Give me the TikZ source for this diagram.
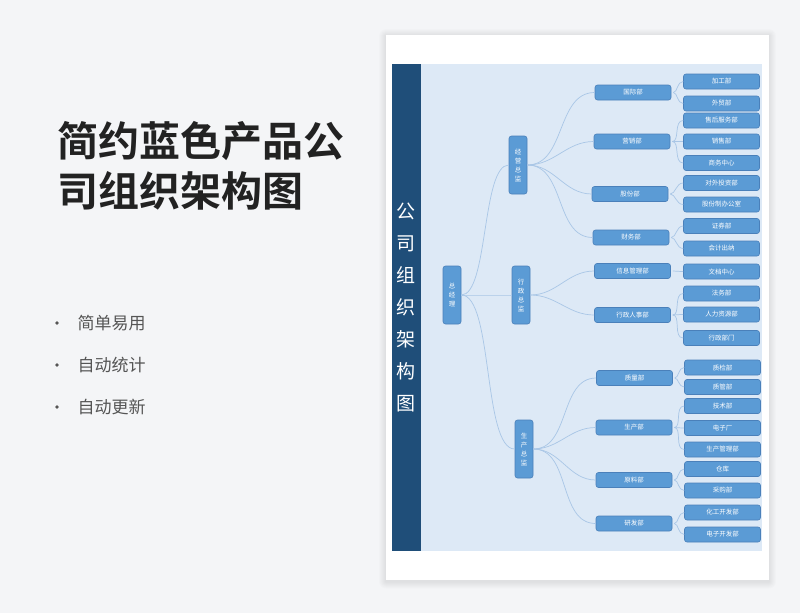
\documentclass[tikz,border=0pt]{standalone}
\usepackage{fontspec}
\setmainfont{Noto Sans CJK SC}[BoldFont={Noto Sans CJK SC Bold}]
\usepackage{tikz}
\usetikzlibrary{positioning}
\definecolor{pagebg}{HTML}{F4F5F7}
\definecolor{panelbg}{HTML}{DDE9F6}
\definecolor{navy}{HTML}{1F4E79}
\definecolor{boxfill}{HTML}{5B9BD5}
\definecolor{boxline}{HTML}{4A80BA}
\definecolor{linkc}{HTML}{A9C6E6}
\definecolor{titlec}{HTML}{222222}
\definecolor{bulletc}{HTML}{555555}
\tikzset{
  unit/.style={draw=boxline, fill=boxfill, rounded corners=2.5pt, line width=0.6pt,
               inner sep=0pt, text=white, font=\fontsize{6.5}{7}\selectfont},
  dept/.style={unit, minimum width=76pt, minimum height=15pt},
  head/.style={unit, minimum width=18pt, minimum height=58pt, align=center,
               font=\fontsize{6.5}{9}\selectfont},
  link/.style={draw=linkc, line width=0.7pt},
  trunk/.style={link, looseness=0.5},
  twig/.style={link, shorten <=2pt},
  softshadow/.style={fill=black, opacity=0.012},
  bigtitle/.style={anchor=west, text=titlec, font=\fontsize{41}{48}\selectfont\bfseries},
  bulletitem/.style={anchor=west, text=bulletc, font=\fontsize{17}{20}\selectfont}
}

\begin{document}
\begin{tikzpicture}[x=1pt, y=-1pt]
    \useasboundingbox[fill=pagebg] (0,0) rectangle (800,613);
    % left side
    \node[bigtitle] (t1) at (54,141) {简约蓝色产品公};
    \node[bigtitle] (t2) at (54,191) {司组织架构图};
    \fill[bulletc] (57,323) circle (1.8); \node[bulletitem] (b1) at (74,323) {简单易用};
    \fill[bulletc] (57,365) circle (1.8); \node[bulletitem] (b2) at (74,365) {自动统计};
    \fill[bulletc] (57,407) circle (1.8); \node[bulletitem] (b3) at (74,407) {自动更新};
    % card with a soft shadow
    \foreach \d in {1,...,7}
      \fill[softshadow, rounded corners=\d pt] (386-\d,35-\d+1) rectangle (769+\d,580+\d+1.5);
    \fill[white] (386,35) rectangle (769,580);
    \fill[panelbg] (421,64) rectangle (762,551);
    \fill[navy] (392,64) rectangle (421,551);
    \node[text=white, align=center, font=\fontsize{19}{32}\selectfont] (side) at (406,307.5)
      {公\\司\\组\\织\\架\\构\\图};

    % chart
    \node[head] (ceo) at (452,295) {总\\经\\理};
    \node[head] (jy) at (518,165) {经\\营\\总\\监};
    \node[head] (xz) at (521,295) {行\\政\\总\\监};
    \node[head] (sc) at (524,449) {生\\产\\总\\监};

    \node[dept] (gj) at (633,92.5) {国际部};
    \node[dept] (yx) at (632,141.5) {营销部};
    \node[dept] (gf) at (630,194) {股份部};
    \node[dept] (cw) at (631,237.5) {财务部};
    \node[dept] (xx) at (632.5,271) {信息管理部};
    \node[dept] (rs) at (632.5,315) {行政人事部};
    \node[dept] (zl) at (634.5,378) {质量部};
    \node[dept] (scb) at (634,427.5) {生产部};
    \node[dept] (yl) at (634,480) {原料部};
    \node[dept] (yf) at (634,523.5) {研发部};

    \node[dept] (jg) at (721.5,81.5) {加工部};
    \node[dept] (wm) at (721.5,103.5) {外贸部};
    \node[dept] (sh) at (721.5,120.5) {售后服务部};
    \node[dept] (xs) at (721.5,141.5) {销售部};
    \node[dept] (sw) at (721.5,163) {商务中心};
    \node[dept] (dw) at (721.5,183) {对外投资部};
    \node[dept] (gfz) at (721.5,204.5) {股份制办公室};
    \node[dept] (zq) at (721.5,226) {证券部};
    \node[dept] (kj) at (721.5,248.5) {会计出纳};
    \node[dept] (wd) at (721.5,271.5) {文档中心};
    \node[dept] (fw) at (721.5,293.5) {法务部};
    \node[dept] (rl) at (721.5,314.5) {人力资源部};
    \node[dept] (xzbm) at (721.5,338) {行政部门};
    \node[dept] (zj) at (722.5,367.5) {质检部};
    \node[dept] (zg) at (722.5,387) {质管部};
    \node[dept] (js) at (722.5,406) {技术部};
    \node[dept] (dz) at (722.5,428) {电子厂};
    \node[dept] (scgl) at (722.5,449.5) {生产管理部};
    \node[dept] (ck) at (722.5,469) {仓库};
    \node[dept] (cg) at (722.5,490.5) {采购部};
    \node[dept] (hg) at (722.5,512.5) {化工开发部};
    \node[dept] (dzkf) at (722.5,534.5) {电子开发部};

    \draw[trunk] (ceo.east) to[out=0,in=180] (jy.west);
    \draw[trunk] (ceo.east) to[out=0,in=180] (xz.west);
    \draw[trunk] (ceo.east) to[out=0,in=180] (sc.west);

    \draw[link] (jy.east) to[out=0,in=180] (gj.west); \draw[link] (jy.east) to[out=0,in=180] (yx.west);
    \draw[link] (jy.east) to[out=0,in=180] (gf.west); \draw[link] (jy.east) to[out=0,in=180] (cw.west);
    \draw[link] (xz.east) to[out=0,in=180] (xx.west); \draw[link] (xz.east) to[out=0,in=180] (rs.west);
    \draw[link] (sc.east) to[out=0,in=180] (zl.west); \draw[link] (sc.east) to[out=0,in=180] (scb.west);
    \draw[link] (sc.east) to[out=0,in=180] (yl.west); \draw[link] (sc.east) to[out=0,in=180] (yf.west);

    \draw[twig] (gj.east) to[out=0,in=180] (jg.west); \draw[twig] (gj.east) to[out=0,in=180] (wm.west);
    \draw[twig] (yx.east) to[out=0,in=180] (sh.west); \draw[twig] (yx.east) to[out=0,in=180] (xs.west);
    \draw[twig] (yx.east) to[out=0,in=180] (sw.west);
    \draw[twig] (gf.east) to[out=0,in=180] (dw.west); \draw[twig] (gf.east) to[out=0,in=180] (gfz.west);
    \draw[twig] (cw.east) to[out=0,in=180] (zq.west); \draw[twig] (cw.east) to[out=0,in=180] (kj.west);
    \draw[twig] (xx.east) to[out=0,in=180] (wd.west);
    \draw[twig] (rs.east) to[out=0,in=180] (fw.west); \draw[twig] (rs.east) to[out=0,in=180] (rl.west);
    \draw[twig] (rs.east) to[out=0,in=180] (xzbm.west);
    \draw[twig] (zl.east) to[out=0,in=180] (zj.west); \draw[twig] (zl.east) to[out=0,in=180] (zg.west);
    \draw[twig] (scb.east) to[out=0,in=180] (js.west); \draw[twig] (scb.east) to[out=0,in=180] (dz.west);
    \draw[twig] (scb.east) to[out=0,in=180] (scgl.west);
    \draw[twig] (yl.east) to[out=0,in=180] (ck.west); \draw[twig] (yl.east) to[out=0,in=180] (cg.west);
    \draw[twig] (yf.east) to[out=0,in=180] (hg.west); \draw[twig] (yf.east) to[out=0,in=180] (dzkf.west);
  \end{tikzpicture}
\end{document}
